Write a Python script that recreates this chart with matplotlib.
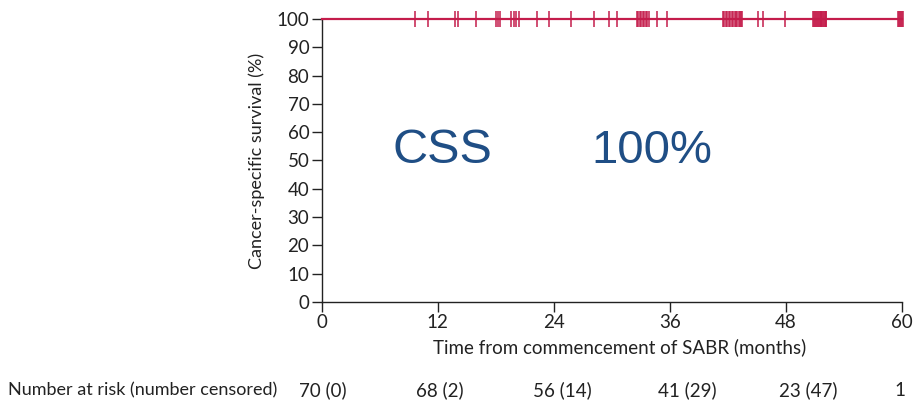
import matplotlib
matplotlib.use("Agg")
import matplotlib.pyplot as plt
import numpy as np


# =========================
# Data
# =========================
# Kaplan-Meier step curve: no cancer deaths, survival stays at 100 %
km_time = [0, 60]
km_surv = [100, 100]

# Censoring times (months)
censor_times = [
    9.6, 11.0,
    13.8, 14.1, 16.0, 18.0, 18.2, 18.4, 19.6, 19.85, 20.1, 20.4, 22.3, 23.5,
    25.8, 28.2, 29.7, 30.5, 32.6, 32.75, 32.9, 33.05, 33.2, 33.35, 33.5, 33.65,
    33.9, 34.7, 35.7,
    41.5, 41.65, 41.8, 41.95, 42.1, 42.25, 42.4, 42.55, 42.7, 42.85, 43.0,
    43.15, 43.3, 43.4, 43.5, 45.1, 45.6, 47.9,
    50.8, 50.9, 51.0, 51.1, 51.2, 51.3, 51.4, 51.5, 51.6, 51.7, 51.8, 51.9,
    52.0, 52.1, 52.2, 52.2,
    59.6, 59.7, 59.8, 59.9, 60.0, 60.1,
]

x_ticks = [0, 12, 24, 36, 48, 60]
y_ticks = [0, 10, 20, 30, 40, 50, 60, 70, 80, 90, 100]

risk_labels = ["70 (0)", "68 (2)", "56 (14)", "41 (29)", "23 (47)", "1"]
# where each at-risk entry sits along the time axis
risk_pos = [0.1, 12.2, 24.9, 37.8, 50.3, 59.8]

curve_color = "#c41c4b"
text_color = "#1f4e85"
font_axis = ["Lato", "Liberation Sans", "DejaVu Sans"]


# =========================
# Figure
# =========================
fig = plt.figure(figsize=(9.22, 4.04), dpi=100)
ax = fig.add_axes([0.349, 0.2525, 0.629, 0.7005])

ax.step(km_time, km_surv, where="post", color=curve_color, lw=1.6,
        clip_on=False, zorder=3)
ax.plot(censor_times, [100] * len(censor_times), ls="none", marker="|",
        ms=11.5, mew=1.1, color=curve_color, clip_on=False, zorder=4)

ax.set_xlim(0, 60)
ax.set_ylim(0, 100)
ax.set_xticks(x_ticks)
ax.set_yticks(y_ticks)
ax.set_xticklabels([str(t) for t in x_ticks], family=font_axis, fontsize=13.5)
ax.set_yticklabels([str(t) for t in y_ticks], family=font_axis, fontsize=13.5)
ax.tick_params(direction="out", length=7, width=1.0, color="#222222",
               labelcolor="#222222", pad=2)

for side in ["top", "right"]:
    ax.spines[side].set_visible(False)
for side in ["left", "bottom"]:
    ax.spines[side].set_linewidth(1.0)
    ax.spines[side].set_color("#222222")

ax.set_xlabel("Time from commencement of SABR (months)", family=font_axis,
              fontsize=13.5, color="#222222", labelpad=5)
ax.xaxis.label.set_x(0.514)
ax.set_ylabel("Cancer-specific survival (%)", family=font_axis,
              fontsize=13, color="#222222", labelpad=8)

# big summary text
ax.text(12.5, 53.5, "CSS", color=text_color, fontsize=35,
        family=["Liberation Sans", "DejaVu Sans"], ha="center", va="center")
ax.text(34.1, 53.5, "100%", color=text_color, fontsize=34,
        family=["Liberation Sans", "DejaVu Sans"], ha="center", va="center")

# number-at-risk table
fig.text(8 / 922, 1 - 390 / 404, "Number at risk (number censored)",
         family=font_axis, fontsize=13, color="#222222", va="center")
for pos, lab in zip(risk_pos, risk_labels):
    ax.annotate(lab, xy=(pos, 0), xycoords=("data", "figure fraction"),
                xytext=(0, 1 - 390 / 404), textcoords=("offset points", "figure fraction"),
                family=font_axis, fontsize=13.5, color="#222222",
                ha="center", va="center", annotation_clip=False)

fig.savefig("out.png", dpi=100)
